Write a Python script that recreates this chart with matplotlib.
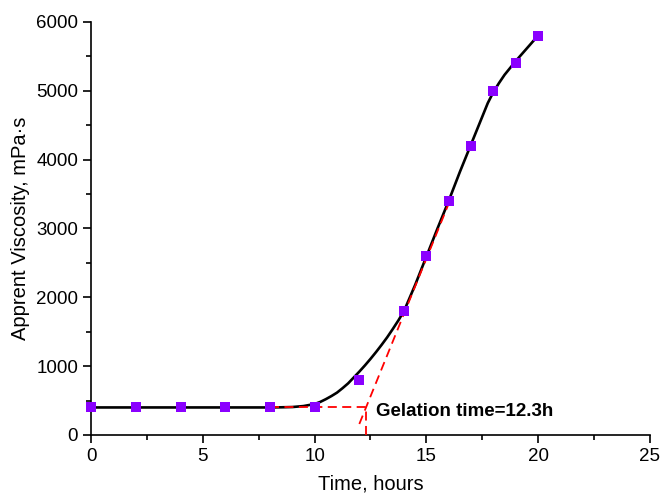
import matplotlib
matplotlib.use('Agg')
import matplotlib.pyplot as plt
from matplotlib.ticker import MultipleLocator

plt.rcParams['font.family'] = ['Liberation Sans', 'DejaVu Sans']

# measured points
time_h = [0, 2, 4, 6, 8, 10, 12, 14, 15, 16, 17, 18, 19, 20]
viscosity = [400, 400, 400, 400, 400, 400, 800, 1800, 2600, 3400, 4200, 5000, 5400, 5800]

# fitted curve
fit_t = [0, 8, 8.5, 9, 9.5, 10, 10.25, 10.5, 10.75, 11, 11.25, 11.5, 11.75, 12,
         12.25, 12.5, 12.75, 13, 13.25, 13.5, 13.75, 14, 14.5, 15, 15.5, 16,
         16.5, 17, 17.5, 17.75, 18, 18.25, 18.5, 19, 19.5, 20]
fit_v = [400, 400, 402, 406, 420, 450, 480, 520, 565, 615, 680, 750, 835, 920,
         1010, 1105, 1205, 1310, 1420, 1540, 1665, 1800, 2180, 2590, 3000, 3400,
         3820, 4220, 4620, 4820, 4980, 5110, 5230, 5430, 5615, 5800]

# tangent construction
base_t = [8, 12.3]
base_v = [400, 400]
tangent_t = [12.0, 16.0]
tangent_v = [160, 3360]
gel_t = [12.3, 12.3]
gel_v = [0, 400]

fig = plt.figure(figsize=(6.61, 4.96), dpi=100)
ax = fig.add_axes([0.138, 0.123, 0.845, 0.833])

ax.plot(fit_t, fit_v, color='black', lw=1.9, zorder=2, solid_joinstyle='round')
ax.plot(base_t, base_v, color='red', ls=(0, (5, 3)), lw=1.3, zorder=3)
ax.plot(tangent_t, tangent_v, color='red', ls=(0, (5, 3)), lw=1.3, zorder=3)
ax.plot(gel_t, gel_v, color='red', ls=(0, (5, 3)), lw=1.3, zorder=3)
ax.plot(time_h, viscosity, ls='none', marker='s', ms=6.5, color='#8A00FF',
        markeredgewidth=0, zorder=4, clip_on=False)

ax.text(12.75, 340, 'Gelation time=12.3h', fontsize=13.5, fontweight='bold',
        va='center', ha='left')

ax.set_xlim(0, 25)
ax.set_ylim(0, 6000)
ax.xaxis.set_major_locator(MultipleLocator(5))
ax.xaxis.set_minor_locator(MultipleLocator(2.5))
ax.yaxis.set_major_locator(MultipleLocator(1000))
ax.yaxis.set_minor_locator(MultipleLocator(500))
ax.spines['top'].set_visible(False)
ax.spines['right'].set_visible(False)
for s in ('left', 'bottom'):
    ax.spines[s].set_linewidth(1.2)
ax.tick_params(which='major', direction='out', length=6, width=1.2, labelsize=13.5)
ax.tick_params(which='minor', direction='out', length=3.5, width=1.2)

ax.set_xlabel('Time, hours', fontsize=14.5, labelpad=7)
ax.set_ylabel('Apprent Viscosity, mPa·s', fontsize=14.5, labelpad=4)

fig.savefig('out.png', dpi=100)
